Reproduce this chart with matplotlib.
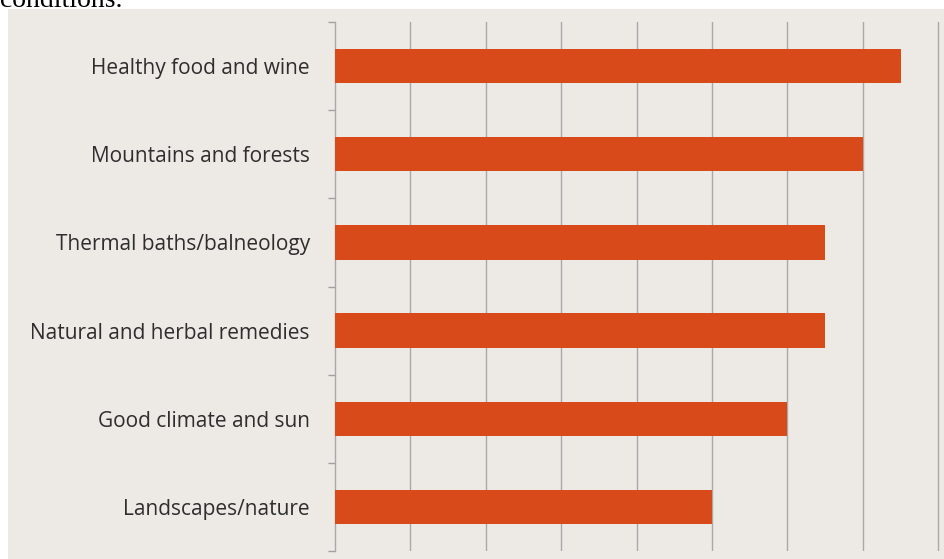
import matplotlib
matplotlib.use("Agg")
import matplotlib.pyplot as plt
import numpy as np

categories = ["Healthy food and wine", "Mountains and forests", "Thermal baths/balneology",
              "Natural and herbal remedies", "Good climate and sun", "Landscapes/nature"]
values = [7.5, 7.0, 6.5, 6.5, 6.0, 5.0]

W, H = 944, 559
fig = plt.figure(figsize=(W / 100, H / 100), dpi=100, facecolor="white")

# beige panel
bg = fig.add_axes([8 / W, 0, 1 - 8 / W, 1 - 9 / H], zorder=-5)
bg.set_facecolor("#EDEAE6")
bg.set_xticks([]); bg.set_yticks([])
for s in bg.spines.values():
    s.set_visible(False)

fig.text(0.0, 1 - 7 / H, "conditions.", family="Liberation Serif", fontsize=20,
         color="black", va="baseline", ha="left")

left, right, top, bottom = 335, 942, 22, 551
ax = fig.add_axes([left / W, 1 - bottom / H, (right - left) / W, (bottom - top) / H], zorder=1)
ax.set_facecolor("none")

n = len(categories)
y = np.arange(n)[::-1]
ax.barh(y, values, height=0.39, color="#D84A1A", zorder=3)

ax.set_xlim(0, 8.05)
ax.set_ylim(-0.5, n - 0.5)
ax.set_xticks(np.arange(1, 9))
ax.xaxis.grid(True, color="#A8A8A8", linewidth=1.0)
ax.set_axisbelow(True)
ax.tick_params(axis="x", length=0, labelbottom=False)

ax.set_yticks(y)
ax.set_yticklabels(categories, family="Open Sans", fontsize=15, color="#2E2E2E")
ax.tick_params(axis="y", length=0, pad=18)
ax.set_yticks(np.arange(-0.5, n, 1.0), minor=True)
ax.tick_params(axis="y", which="minor", length=5, color="#A0A0A0", width=1, direction="out")

for s in ["top", "right", "bottom"]:
    ax.spines[s].set_visible(False)
ax.spines["left"].set_color("#A8A8A8")
ax.spines["left"].set_linewidth(1.0)

fig.savefig("out.png", dpi=100, facecolor="white")
